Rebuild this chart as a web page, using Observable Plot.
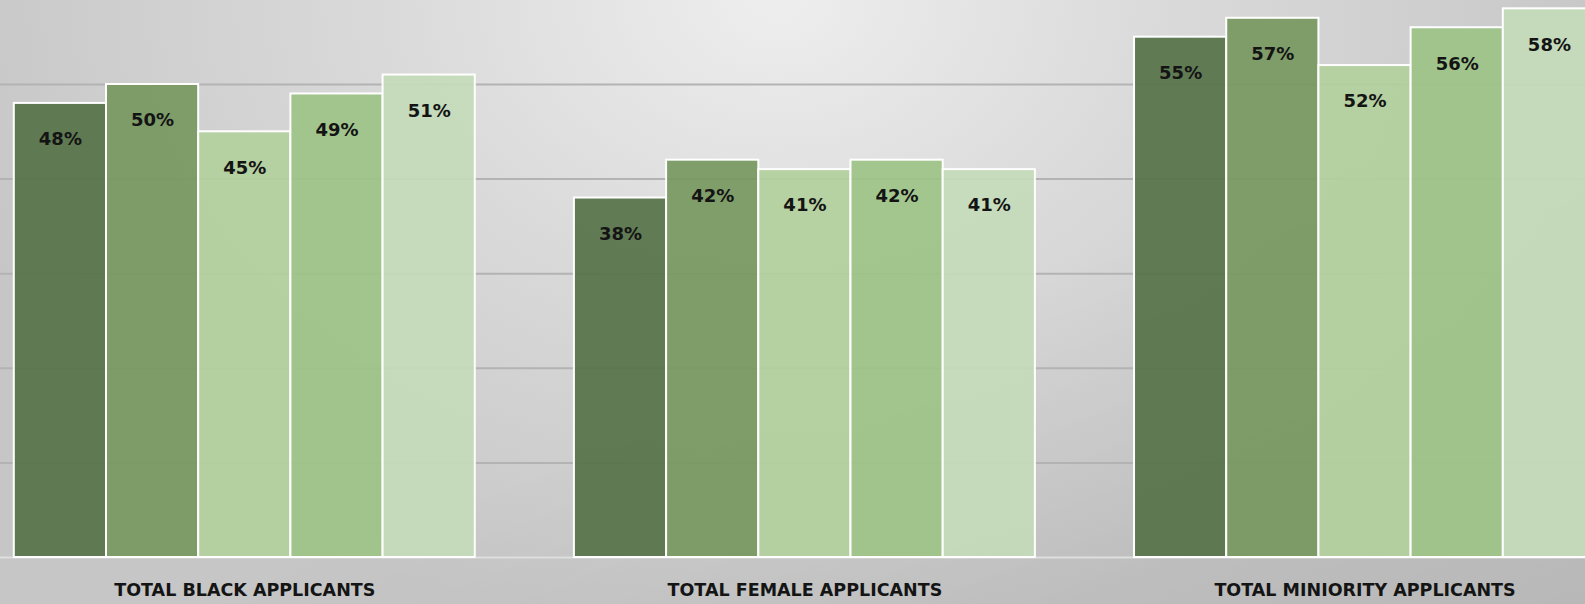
<!DOCTYPE html>
<html><head><meta charset="utf-8">
<script src="https://cdn.jsdelivr.net/npm/d3@7"></script>
<script src="https://cdn.jsdelivr.net/npm/@observablehq/plot@0.6"></script>
<style>
html,body{margin:0;padding:0;overflow:hidden;width:1585px;height:604px;}
#chart{position:relative;width:1585px;height:604px;overflow:hidden;
  background:
    linear-gradient(to bottom right, rgba(0,0,0,0) 55%, rgba(0,0,0,0.07) 100%),
    radial-gradient(ellipse 860px 640px at 49% 0%, #eeeeee 0%, #dadada 45%, #c6c6c6 100%);
}
#chart svg{position:absolute;left:0;top:0;}
</style></head><body><div id="chart"></div>
<script>
const categories = ["TOTAL BLACK APPLICANTS", "TOTAL FEMALE APPLICANTS", "TOTAL MINIORITY APPLICANTS"];
const seriesNames = ["Series 1", "Series 2", "Series 3", "Series 4", "Series 5"];
const blackValues = [0.48, 0.50, 0.45, 0.49, 0.51];
const femaleValues = [0.38, 0.42, 0.41, 0.42, 0.41];
const minorityValues = [0.55, 0.57, 0.52, 0.56, 0.58];
const gridTicks = [0.1, 0.2, 0.3, 0.4, 0.5];
const seriesColors = ["#567349", "#769860", "#b2cf9c", "#9dc388", "#c3dbba"];

const valuesByCategory = [blackValues, femaleValues, minorityValues];
const data = categories.flatMap((c, i) =>
  seriesNames.map((s, j) => ({category: c, series: s, value: valuesByCategory[i][j]})));

const yScale = {domain: [0, 0.6], range: [557, -10.6]};
const font = "'DejaVu Sans', sans-serif";

const grid = Plot.plot({
  width: 1585, height: 604,
  marginLeft: 0, marginRight: 0, marginTop: 0, marginBottom: 47,
  style: {background: "transparent", maxWidth: "none", overflow: "visible", fontFamily: font},
  y: {...yScale, axis: null},
  marks: [
    Plot.ruleY(gridTicks, {stroke: "#b3b3b3", strokeWidth: 2}),
    Plot.ruleY([0], {stroke: "#dedede", strokeWidth: 2})
  ]
});

const bars = Plot.plot({
  width: 1600, height: 604,
  marginLeft: 13.8, marginRight: 5, marginTop: 0, marginBottom: 47,
  style: {background: "transparent", maxWidth: "none", overflow: "visible", fontFamily: font},
  fx: {domain: categories, paddingInner: 0.177, paddingOuter: 0, round: false, axis: null},
  x: {domain: seriesNames, padding: 0, round: false, axis: null},
  y: {...yScale, axis: null},
  color: {domain: seriesNames, range: seriesColors},
  marks: [
    Plot.barY(data, {fx: "category", x: "series", y: "value", fill: "series",
      fillOpacity: 0.92, stroke: "white", strokeWidth: 2}),
    Plot.text(data, {fx: "category", x: "series", y: "value",
      text: d => Math.round(d.value * 100) + "%", dy: 36, lineAnchor: "middle",
      fontSize: 18, fontWeight: "bold", fill: "#141414"}),
    Plot.text(categories, {fx: d => d, text: d => d, frameAnchor: "bottom", dy: 33,
      lineAnchor: "middle", fontSize: 17.5, fontWeight: "bold", fill: "#141414"})
  ]
});

const chart = document.getElementById("chart");
chart.appendChild(grid);
chart.appendChild(bars);
</script>
</body></html>
